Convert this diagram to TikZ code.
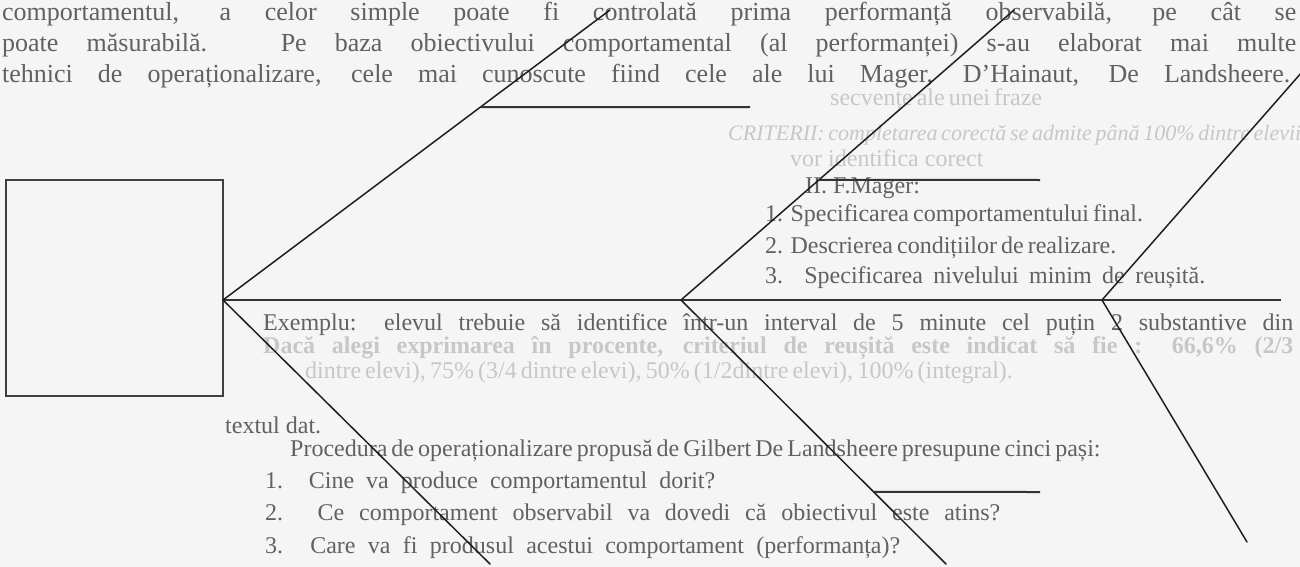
\documentclass[tikz,border=0pt]{standalone}
\usepackage{fontspec}
\setmainfont{Liberation Serif}
\usetikzlibrary{calc}
\begin{document}
\begin{tikzpicture}[x=1pt,y=-1pt,
  bone/.style={line width=1.5pt, draw=black!88, line cap=round},
  spine/.style={line width=2pt, draw=black!80},
  headbox/.style={draw=black!75, line width=1.3pt, inner sep=0pt},
  pagetext/.style={anchor=base west, inner sep=0pt, text=black!62, font=\fontsize{24}{28}\selectfont},
  toptext/.style={anchor=base west, inner sep=0pt, text=black!62, font=\fontsize{26}{30}\selectfont},
  ghosttext/.style={anchor=base west, inner sep=0pt, text=black!22, font=\fontsize{24}{28}\selectfont}]
\useasboundingbox (0,0) rectangle (1300,567);
\fill[black!4] (0,0) rectangle (1300,567);
\begin{scope}
\clip (0,0) rectangle (1300,567);
% page text
\node[toptext] (t1) at (2,21) {\makebox[1294pt][s]{comportamentul, a celor simple poate fi controlată prima performanță observabilă, pe cât se}};
\node[toptext] (t2) at (2,52) {\makebox[1294pt][s]{poate măsurabilă. Pe baza obiectivului comportamental (al performanței) s-au elaborat mai multe}};
\node[toptext] (t3) at (2,83) {\makebox[1288pt][s]{tehnici de operaționalizare, cele mai cunoscute fiind cele ale lui Mager, D'Hainaut, De Landsheere.}};
\node[ghosttext] (g1) at (830,106) {\makebox[180pt][s]{secvențe ale unei fraze}};
\node[ghosttext, font=\fontsize{22}{26}\selectfont] (g2) at (728,140) {\makebox[566pt][s]{\itshape CRITERII: completarea corectă se admite până 100\% dintre elevii}};
\node[ghosttext] (g3) at (790,166) {vor identifica corect};
\node[pagetext] (t4) at (805,193) {II. F.Mager:};
\node[pagetext] (t5) at (765,221) {\makebox[335pt][s]{1. Specificarea comportamentului final.}};
\node[pagetext] (t6) at (765,253) {\makebox[330pt][s]{2. Descrierea condițiilor de realizare.}};
\node[pagetext] (t7) at (765,283) {\makebox[440pt][s]{3. Specificarea nivelului minim de reușită.}};
\node[pagetext] (t8) at (263,330) {\makebox[1030pt][s]{Exemplu: elevul trebuie să identifice într-un interval de 5 minute cel puțin 2 substantive din}};
\node[ghosttext] (g4) at (263,353) {\makebox[1030pt][s]{\bfseries Dacă alegi exprimarea în procente, criteriul de reușită este indicat să fie : 66,6\% (2/3}};
\node[ghosttext] (g5) at (305,378) {\makebox[705pt][s]{dintre elevi), 75\% (3/4 dintre elevi), 50\% (1/2dintre elevi), 100\% (integral).}};
\node[pagetext] (t9) at (225,433) {textul dat.};
\node[pagetext] (t10) at (290,456) {\makebox[725pt][s]{Procedura de operaționalizare propusă de Gilbert De Landsheere presupune cinci pași:}};
\node[pagetext] (t11) at (265,488) {\makebox[450pt][s]{1. Cine va produce comportamentul dorit?}};
\node[pagetext] (t12) at (265,520) {\makebox[735pt][s]{2. Ce comportament observabil va dovedi că obiectivul este atins?}};
\node[pagetext] (t13) at (265,553) {\makebox[635pt][s]{3. Care va fi produsul acestui comportament (performanța)?}};
\end{scope}
% fishbone
\node[headbox, minimum width=217pt, minimum height=216pt] (head) at (114.5,288) {};
\coordinate (j1) at (223,300);
\coordinate (j2) at (681,300);
\coordinate (j3) at (1102,300);
\coordinate (tail) at (1281,300);
\coordinate (u1) at (610,10);
\coordinate (u2) at (1014,10);
\coordinate (u3) at (1302,72);
\coordinate (d1) at (490,564);
\coordinate (d2) at (946,564);
\coordinate (d3) at (1247,542);
\coordinate (h1a) at ($(j1)!0.665!(u1)$);
\coordinate (h1b) at (750,107);
\coordinate (h2a) at ($(j2)!0.414!(u2)$);
\coordinate (h2b) at (1040,180);
\coordinate (h3a) at ($(j2)!0.727!(d2)$);
\coordinate (h3b) at (1040,492);
\draw[spine] (j1) -- (tail);
\draw[bone] (j1) -- (u1);
\draw[bone] (j1) -- (d1);
\draw[bone] (j2) -- (u2);
\draw[bone] (j2) -- (d2);
\draw[bone] (j3) -- (u3);
\draw[bone] (j3) -- (d3);
\draw[spine] (h1a) -- (h1b);
\draw[spine] (h2a) -- (h2b);
\draw[spine] (h3a) -- (h3b);
\end{tikzpicture}
\end{document}
